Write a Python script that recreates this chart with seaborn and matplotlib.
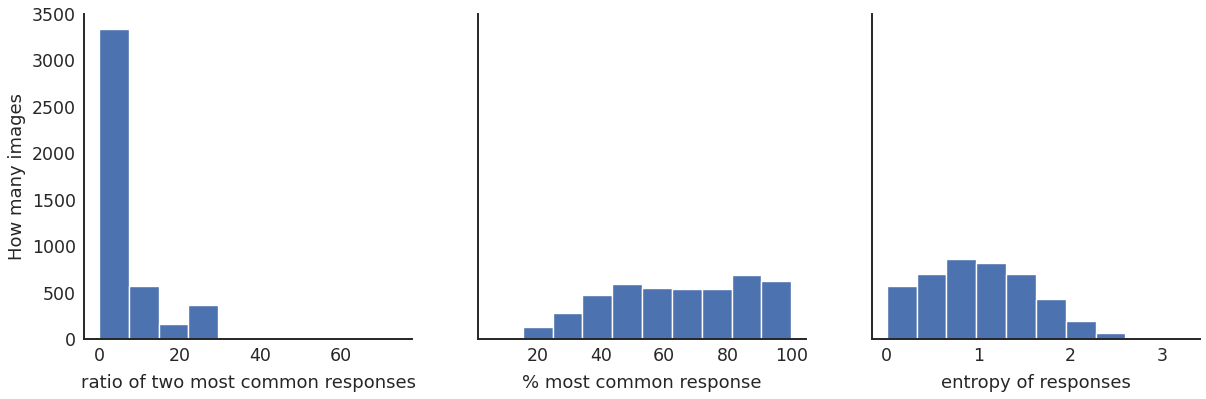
import numpy as np
import pandas as pd
import matplotlib
matplotlib.use("Agg")
import matplotlib.pyplot as plt
import seaborn as sns

# Histogram data (10 equal-width bins over each range)
ratio_range = (0.0, 74.0)
ratio_counts = [3334, 567, 161, 363, 0, 0, 0, 0, 0, 1]

pct_range = (6.0, 100.0)
pct_counts = [2, 126, 277, 470, 589, 552, 541, 541, 686, 621]

entropy_range = (0.0, 3.25)
entropy_counts = [574, 703, 866, 823, 703, 434, 197, 68, 1, 1]

xlabels = ["ratio of two most common responses", "% most common response", "entropy of responses"]
ylabel = "How many images"
yticks = [0, 500, 1000, 1500, 2000, 2500, 3000, 3500]

sns.set_theme(style="white")
plt.rcParams["font.family"] = ["DejaVu Sans"]

fig, axes = plt.subplots(1, 3, figsize=(12.06, 3.99), dpi=100, sharey=True)
fig.subplots_adjust(left=0.0697, right=0.995, top=0.965, bottom=0.150, wspace=0.2)

color = "#4c72b0"
for ax, rng, counts, xl in zip(axes,
                               [ratio_range, pct_range, entropy_range],
                               [ratio_counts, pct_counts, entropy_counts],
                               xlabels):
    edges = np.linspace(rng[0], rng[1], len(counts) + 1)
    centers = (edges[:-1] + edges[1:]) / 2
    df = pd.DataFrame({"x": centers, "w": np.asarray(counts, dtype=float)})
    sns.histplot(data=df, x="x", weights="w", bins=list(edges), ax=ax, color=color,
                 alpha=1, edgecolor="white", linewidth=1)
    ax.set_xlabel(xl, fontsize=13, color="#262626", labelpad=6)
    ax.set_ylabel("")
    ax.tick_params(axis="both", labelsize=12.5, colors="#262626", length=0, pad=6)
    for s in ["left", "bottom"]:
        ax.spines[s].set_color("#262626")
        ax.spines[s].set_linewidth(1.4)

sns.despine(fig=fig)
axes[0].set_ylim(0, 3500)
axes[0].set_yticks(yticks)
axes[0].set_ylabel(ylabel, fontsize=13, color="#262626")

fig.savefig("out.png", dpi=100)
